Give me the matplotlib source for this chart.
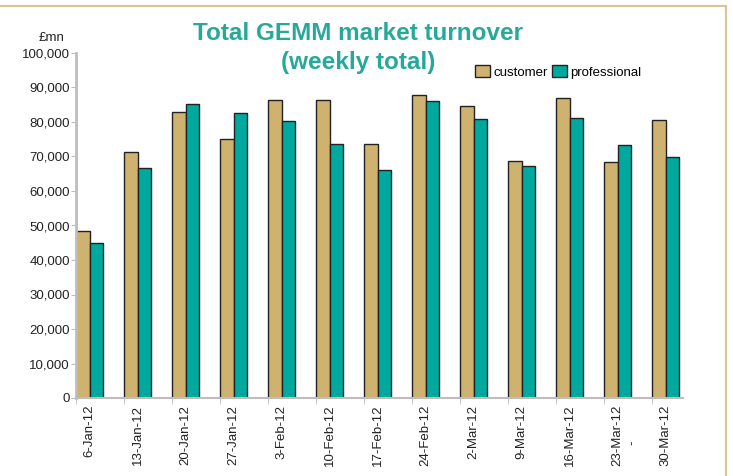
import numpy as np
import matplotlib
matplotlib.use('Agg')
import matplotlib.pyplot as plt
from matplotlib.patches import Rectangle

# 数据
weeks = ['6-Jan-12', '13-Jan-12', '20-Jan-12', '27-Jan-12', '3-Feb-12', '10-Feb-12',
         '17-Feb-12', '24-Feb-12', '2-Mar-12', '9-Mar-12', '16-Mar-12', '23-Mar-12', '30-Mar-12']
customer = [48400, 71400, 83000, 75000, 86500, 86500, 73600, 87900, 84700, 68600, 86900, 68300, 80600]
professional = [44800, 66800, 85200, 82500, 80300, 73500, 66100, 86000, 80800, 67200, 81100, 73200, 69900]
y_ticks = [0, 10000, 20000, 30000, 40000, 50000, 60000, 70000, 80000, 90000, 100000]

c_cust = '#CFB270'
c_prof = '#00A99D'
c_title = '#26A99A'
c_axis = '#BDBDBD'

plt.rcParams['font.family'] = ['Liberation Sans', 'DejaVu Sans']

fig = plt.figure(figsize=(7.33, 4.76), dpi=100)
W, H = 733, 476
ax = fig.add_axes([76 / W, 1 - 398 / H, (683 - 76) / W, (398 - 53) / H])

x = np.arange(len(weeks))
bw = 0.285
ax.bar(x, customer, width=bw, align='edge', color=c_cust, edgecolor='#222222', linewidth=1, label='customer')
ax.bar(x + bw, professional, width=bw, align='edge', color=c_prof, edgecolor='#222222', linewidth=1,
       label='professional')

ax.set_xlim(0, 607 / 48)
ax.set_ylim(0, 100000)

# 坐标轴样式
for s in ['top', 'right']:
    ax.spines[s].set_visible(False)
ax.spines['left'].set_color(c_axis)
ax.spines['left'].set_linewidth(2)
ax.spines['bottom'].set_color(c_axis)
ax.spines['bottom'].set_linewidth(1.5)

ax.set_yticks(y_ticks)
ax.set_yticklabels(['0'] + ['{:,}'.format(v) for v in y_ticks[1:]], fontsize=9.5, color='#222222')
ax.tick_params(axis='y', direction='out', length=3.5, color=c_axis, pad=1)

ax.set_xticks(x, minor=True)
ax.set_xticks(x + bw)
ax.set_xticklabels(weeks, rotation=90, fontsize=9.5, color='#222222')
ax.tick_params(axis='x', which='major', length=0, pad=5)
ax.tick_params(axis='x', which='minor', length=4, color=c_axis)
ax.text(11 + bw + 0.3, -13000, '-', rotation=90, ha='center', va='center', fontsize=9.5, color='#222222')

fig.text(52 / W, 1 - 38 / H, '£mn', ha='center', va='center', fontsize=9.5, color='#222222')

# 标题
fig.text(358 / W, 1 - 33 / H, 'Total GEMM market turnover', ha='center', va='center',
         fontsize=17.5, fontweight='bold', color=c_title)
fig.text(358 / W, 1 - 62 / H, '(weekly total)', ha='center', va='center',
         fontsize=17.5, fontweight='bold', color=c_title)

ax.legend(loc='center', bbox_to_anchor=(558 / W, 1 - 72 / H), bbox_transform=fig.transFigure, ncol=2,
          frameon=False, fontsize=9.5, handlelength=1.15, handleheight=1.05, handletextpad=0.25,
          columnspacing=0.3, borderpad=0)

# 外框
fig.patches.append(Rectangle((-0.01, -0.1), 726 / W + 0.01, 1 - 6 / H + 0.1, transform=fig.transFigure,
                             fill=False, edgecolor='#D9C58E', linewidth=1.5))

fig.savefig('out.png', dpi=100)
